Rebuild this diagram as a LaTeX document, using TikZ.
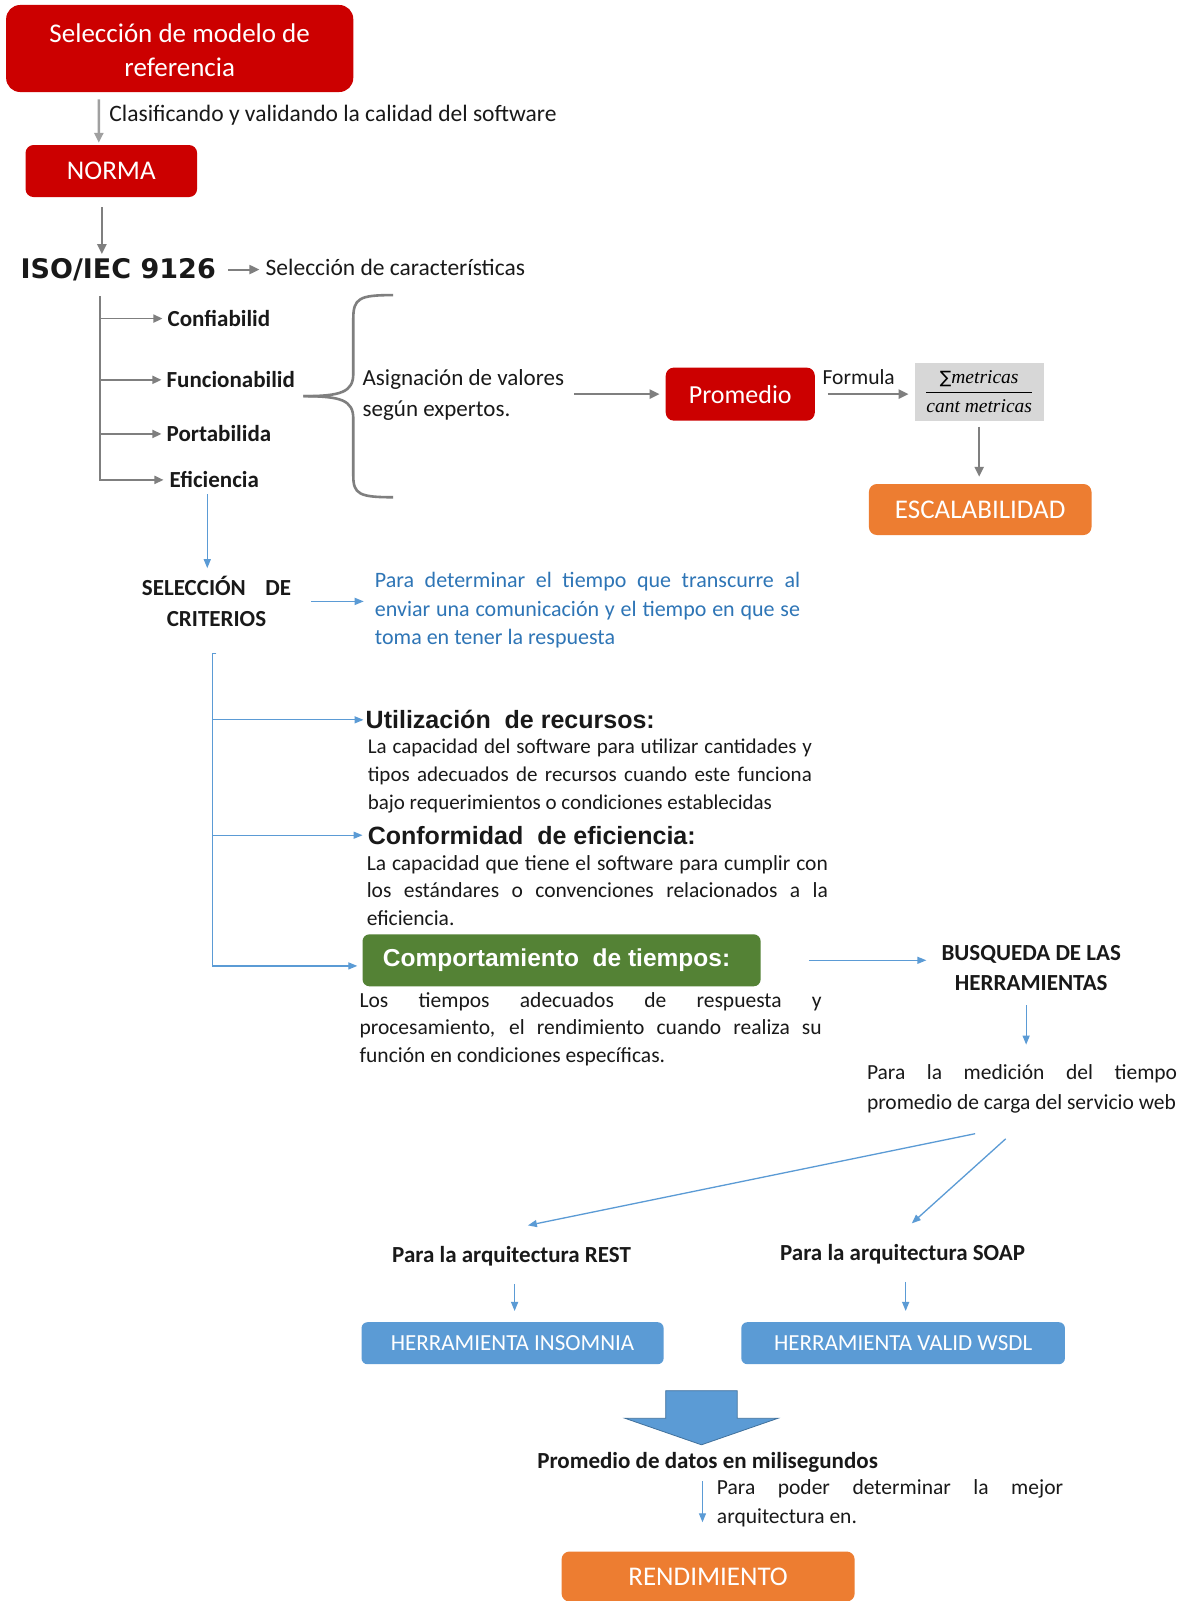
\documentclass[tikz,border=0pt]{standalone}
\usepackage{fontspec}
\setmainfont{Carlito}
\newfontfamily\arialf{Liberation Sans}
\newfontfamily\isof{DejaVu Sans}
\newfontfamily\serifit{Liberation Serif}
\usetikzlibrary{arrows.meta,calc}
\tolerance=10000
\hyphenpenalty=10000
\definecolor{cred}{RGB}{204,0,0}
\definecolor{corange}{RGB}{237,125,49}
\definecolor{cbluebox}{RGB}{91,155,213}
\definecolor{cblueedge}{RGB}{65,113,156}
\definecolor{cgreen}{RGB}{84,130,53}
\definecolor{cgraybox}{RGB}{215,215,215}
\definecolor{cgrayline}{RGB}{127,127,127}
\definecolor{cgraylight}{RGB}{160,160,160}
\definecolor{cblueline}{RGB}{91,155,213}
\definecolor{cbluetext}{RGB}{46,117,182}
\definecolor{ctext}{RGB}{25,25,25}
\begin{document}
\begin{tikzpicture}[x=1.0207pt,y=-1.0207pt,
  every node/.style={inner sep=0pt},
  box/.style={rounded corners=8pt, text=white, align=center, font=\fontsize{27}{34}\selectfont},
  redbox/.style={box, fill=cred},
  orbox/.style={box, fill=corange},
  bluebox/.style={box, fill=cbluebox, rounded corners=6pt, font=\fontsize{23}{28}\selectfont},
  lbl/.style={anchor=west, text=ctext, font=\fontsize{23.5}{28}\selectfont},
  blbl/.style={text=ctext, font=\bfseries\fontsize{23}{30.6}\selectfont},
  para/.style={anchor=west, align=justify, text=ctext},
  hdr/.style={anchor=west, text=ctext, font=\arialf\bfseries\fontsize{25}{30}\selectfont},
  garrow/.style={draw=cgrayline, line width=2.6pt, -{Triangle[length=10pt,width=9pt]}},
  gtree/.style={draw=cgrayline, line width=1.8pt, -{Triangle[length=9pt,width=8pt]}},
  barrow/.style={draw=cblueline, line width=1.3pt, -{Triangle[length=9pt,width=7pt]}},
]
\fill[white] (0,0) rectangle (1160,1568);
\useasboundingbox (0,0) rectangle (1160,1568);

% --- top part
\node[redbox, minimum width=347pt, minimum height=87pt, rounded corners=14pt, text height=56.5pt] (top) at (176,47.5) {Selección de modelo de\\referencia};
\node[redbox, minimum width=171.5pt, minimum height=52pt] (norma) at (109,167.5) {NORMA};
\draw[garrow, draw=cgraylight] ($(top.south west)+(91,7)$) -- ($(norma.north west)+(72,-2)$);
\node[lbl] (clasif) at (107,113) {Clasificando y validando la calidad del software};

\node[anchor=west, text=ctext, font=\isof\bfseries\fontsize{27}{32}\selectfont] (iso) at (20,264) {ISO/IEC 9126};
\coordinate (n1) at ($(norma.south west)+(75,10)$);
\draw[garrow, shorten >=4pt] (n1) -- (n1 |- iso.north);
\node[lbl] (selcar) at (260,262) {Selección de características};
\draw[garrow, line width=2pt, shorten <=12pt, shorten >=6pt] (iso.east) -- (iso.east -| selcar.west);

% --- characteristics tree
\coordinate (treetop) at (98,290);
\node[blbl, anchor=west] (conf) at (164,312) {Confiabilid};
\node[blbl, anchor=west] (func) at (163,372) {Funcionabilid};
\node[blbl, anchor=west] (port) at (163,425) {Portabilida};
\node[blbl, anchor=west] (efic) at (166,470) {Eficiencia};
\draw[gtree, shorten >=5pt] (treetop) |- (conf.west);
\draw[gtree, shorten >=5pt] (treetop) |- (func.west);
\draw[gtree, shorten >=5pt] (treetop) |- (port.west);
\draw[gtree, shorten >=6pt] (treetop) |- (efic.west);

% brace
\draw[cgrayline, line width=2.6pt] (385,289) .. controls (352,289) and (346,292) .. (346,312) -- (346,366) .. controls (346,384) and (334,388) .. (297,388);
\draw[cgrayline, line width=2.6pt] (297,388) .. controls (334,388) and (346,392) .. (346,410) -- (346,466) .. controls (346,484) and (352,487) .. (385,487);

\node[anchor=west, align=left, text=ctext, font=\fontsize{23}{31.6}\selectfont] (asig) at (355,387) {Asignación de valores\\según expertos.};
\node[redbox, minimum width=149pt, minimum height=53pt, font=\fontsize{26}{30}\selectfont] (prom) at (725,386) {Promedio};
\draw[garrow, shorten <=10pt, shorten >=6pt] (asig.east |- prom.west) -- (prom.west);
\node[fill=cgraybox, minimum width=128.6pt, minimum height=58pt] (form) at (959,383.5)
  {\fontsize{19.5}{22}\selectfont$\displaystyle\frac{\mbox{\isof\fontsize{17}{20}\selectfont ∑}\mbox{\serifit\itshape metricas}}{\mbox{\serifit\itshape cant metricas}}$};
\node[text=ctext, font=\fontsize{21.5}{26}\selectfont] (formlab) at (841,369) {Formula};
\draw[garrow, shorten <=13pt, shorten >=6pt] (prom.east) -- (prom.east -| form.west);
\node[orbox, minimum width=222.5pt, minimum height=51pt] (escal) at (960,499) {ESCALABILIDAD};
\draw[garrow, shorten <=6pt, shorten >=7pt] (form.south) -- (form.south |- escal.north);

% --- criteria
\node[blbl, text width=149pt, align=center] (sel) at (212,589) {SELECCIÓN\hfill DE\\CRITERIOS};
\coordinate (e1) at ($(efic.south west)+(37,0)$);
\draw[barrow, shorten <=6pt, shorten >=8pt] (e1) -- (e1 |- sel.north);
\node[para, text=cbluetext, text width=425pt, font=\fontsize{22}{28.5}\selectfont] (bpara) at (367,598)
  {Para determinar el tiempo que transcurre al\linebreak enviar una comunicación y el tiempo en que se\linebreak toma en tener la respuesta};
\draw[barrow, shorten <=20pt, shorten >=11pt] (sel.east) -- (sel.east -| bpara.west);

\coordinate (ctop) at (208,640);
\draw[cblueline, line width=1.3pt] ($(ctop)+(4,0)$) -- (ctop);
\node[hdr] (util) at (358,705) {Utilización\ \ de recursos:};
\node[para, text width=444pt, font=\fontsize{21}{28.1}\selectfont] (utilp) at (360,760)
  {La capacidad del software para utilizar cantidades y\linebreak tipos adecuados de recursos cuando este funciona\linebreak bajo requerimientos o condiciones establecidas};
\node[hdr] (confh) at (360,818) {Conformidad\ \ de eficiencia:};
\node[para, text width=461pt, font=\fontsize{21.5}{27.6}\selectfont] (confp) at (359,872)
  {La capacidad que tiene el software para cumplir con\linebreak los estándares o convenciones relacionados a la\linebreak eficiencia.};
\node[box, fill=cgreen, rounded corners=7pt, minimum width=398pt, minimum height=52pt, font=\arialf\bfseries\fontsize{24.5}{30}\selectfont] (green) at (550,940.5) {Comportamiento\ \ de tiempos:\hspace*{10pt}};
\node[para, text width=462pt, font=\fontsize{21.5}{27.6}\selectfont] (greenp) at (352,1008)
  {Los tiempos adecuados de respuesta y\linebreak procesamiento, el rendimiento cuando realiza su\linebreak función en condiciones específicas.};
\draw[barrow, shorten >=2pt] (ctop) |- (util.west);
\draw[barrow, shorten >=5pt] (ctop) |- (confh.west);
\draw[barrow, shorten >=5pt] (ctop) |- ($(green.west)+(0,5.5)$);

% --- tools
\node[blbl, align=center] (busq) at (1010,948) {BUSQUEDA DE LAS\\HERRAMIENTAS};
\draw[barrow, shorten <=48pt, shorten >=15pt] (green.east) -- (green.east -| busq.west);
\node[para, anchor=center, text width=310pt, font=\fontsize{21.5}{29.6}\selectfont] (medp) at (1001,1066.5)
  {Para la medición del tiempo\linebreak promedio de carga del servicio web};
\coordinate (b1) at ($(busq.south)+(-5,0)$);
\draw[barrow, shorten <=14pt, shorten >=20pt] (b1) -- (b1 |- medp.north);

\node[blbl] (rest) at (501,1230) {Para la arquitectura REST};
\node[blbl] (soap) at (884,1228) {Para la arquitectura SOAP};
\draw[barrow] ($(medp.south)+(-46,20)$) -- ($(rest.north)+(16,-20)$);
\draw[barrow] ($(medp.south)+(-16,25)$) -- ($(soap.north)+(9,-20)$);

\node[bluebox, minimum width=302pt, minimum height=42pt] (ins) at (502,1315.5) {HERRAMIENTA INSOMNIA};
\node[bluebox, minimum width=323.5pt, minimum height=42pt] (wsdl) at (884.5,1315.5) {HERRAMIENTA VALID WSDL};
\coordinate (r1) at ($(rest.south)+(3,0)$);
\coordinate (s1) at ($(soap.south)+(3,0)$);
\draw[barrow, shorten <=18pt, shorten >=11pt] (r1) -- (r1 |- ins.north);
\draw[barrow, shorten <=18pt, shorten >=11pt] (s1) -- (s1 |- wsdl.north);

% --- block arrow
\draw[fill=cbluebox, draw=cblueedge, line width=0.8pt, line join=miter]
  (652,1362) -- (722,1362) -- (722,1389) -- (762,1389) -- (687,1415) -- (612,1389) -- (652,1389) -- cycle;

\node[blbl] (prodat) at (693,1432) {Promedio de datos en milisegundos};
\node[orbox, minimum width=293pt, minimum height=50pt] (rend) at (693.5,1544) {RENDIMIENTO};
\coordinate (p1) at ($(prodat.south)+(-5,0)$);
\draw[barrow, shorten <=9pt, shorten >=29pt] (p1) -- (p1 |- rend.north);
\node[para, text width=346pt, font=\fontsize{21.5}{28.6}\selectfont] (poder) at (702,1472)
  {Para poder determinar la mejor\linebreak arquitectura en.};
\end{tikzpicture}
\end{document}
